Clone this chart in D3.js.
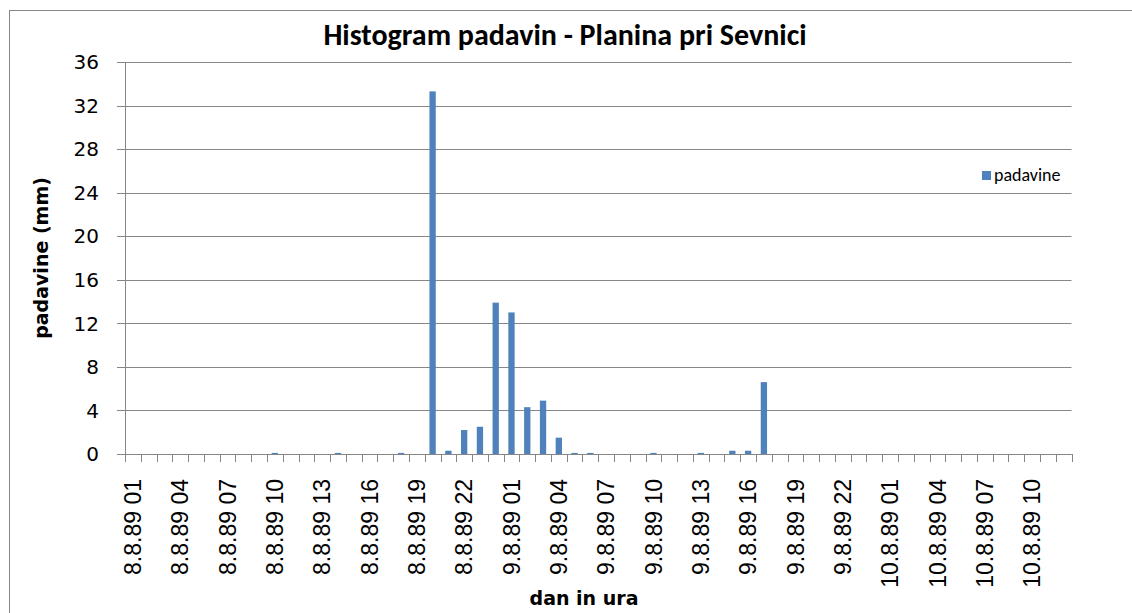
<!DOCTYPE html>
<html>
<head>
<meta charset="utf-8">
<script src="https://cdn.jsdelivr.net/npm/d3@7"></script>
<style>
  body { margin: 0; background: #fff; }
  svg { display: block; }
</style>
</head>
<body>
<svg width="1132" height="613"></svg>
<script>
const categories = [
  "8.8.89 01","8.8.89 02","8.8.89 03","8.8.89 04","8.8.89 05","8.8.89 06","8.8.89 07","8.8.89 08",
  "8.8.89 09","8.8.89 10","8.8.89 11","8.8.89 12","8.8.89 13","8.8.89 14","8.8.89 15","8.8.89 16",
  "8.8.89 17","8.8.89 18","8.8.89 19","8.8.89 20","8.8.89 21","8.8.89 22","8.8.89 23","9.8.89 00",
  "9.8.89 01","9.8.89 02","9.8.89 03","9.8.89 04","9.8.89 05","9.8.89 06","9.8.89 07","9.8.89 08",
  "9.8.89 09","9.8.89 10","9.8.89 11","9.8.89 12","9.8.89 13","9.8.89 14","9.8.89 15","9.8.89 16",
  "9.8.89 17","9.8.89 18","9.8.89 19","9.8.89 20","9.8.89 21","9.8.89 22","9.8.89 23","10.8.89 00",
  "10.8.89 01","10.8.89 02","10.8.89 03","10.8.89 04","10.8.89 05","10.8.89 06","10.8.89 07","10.8.89 08",
  "10.8.89 09","10.8.89 10","10.8.89 11","10.8.89 12"
];
const padavine = [
  0, 0, 0, 0, 0, 0, 0, 0, 0, 0.1, 0, 0, 0, 0.1, 0, 0, 0, 0.1, 0, 33.3,
  0.3, 2.2, 2.5, 13.9, 13.0, 4.3, 4.9, 1.5, 0.1, 0.1, 0, 0, 0, 0.1, 0, 0, 0.1, 0, 0.3, 0.3,
  6.6, 0, 0, 0, 0, 0, 0, 0, 0, 0, 0, 0, 0, 0, 0, 0, 0, 0, 0, 0
];
const yTicks = [0, 4, 8, 12, 16, 20, 24, 28, 32, 36];

const svg = d3.select("svg");
const calibri = "Carlito, Lato, 'Open Sans', sans-serif";
const wide = "'DejaVu Sans', Verdana, sans-serif";
const gray = "#868686";

const plotLeft = 125, plotRight = 1071.5, plotTop = 62, plotBottom = 454;

const data = categories.map((c, i) => ({ cat: c, val: padavine[i] }));

const x = d3.scaleBand()
  .domain(categories)
  .range([plotLeft, plotRight])
  .paddingInner(0.6)
  .paddingOuter(0.3);

const y = d3.scaleLinear()
  .domain([0, 36])
  .range([plotBottom, plotTop]);

// chart border
svg.append("rect")
  .attr("x", 9.5).attr("y", 10.5)
  .attr("width", 1130).attr("height", 620)
  .attr("fill", "#fff")
  .attr("stroke", gray);

// gridlines + y ticks
svg.append("g")
  .selectAll("line")
  .data(yTicks)
  .join("line")
  .attr("x1", plotLeft - 8)
  .attr("x2", plotRight)
  .attr("y1", d => Math.round(y(d)) + 0.5)
  .attr("y2", d => Math.round(y(d)) + 0.5)
  .attr("stroke", gray);

svg.append("g")
  .selectAll("text")
  .data(yTicks)
  .join("text")
  .attr("x", 99)
  .attr("y", d => y(d))
  .attr("dy", "0.36em")
  .attr("text-anchor", "end")
  .style("font-family", wide)
  .style("font-size", "20px")
  .text(d => d);

// y axis line
svg.append("line")
  .attr("x1", plotLeft + 0.5).attr("x2", plotLeft + 0.5)
  .attr("y1", plotTop).attr("y2", plotBottom)
  .attr("stroke", gray);

// bars
svg.append("g")
  .selectAll("rect")
  .data(data.filter(d => d.val > 0))
  .join("rect")
  .attr("x", d => x(d.cat))
  .attr("width", x.bandwidth())
  .attr("y", d => y(d.val))
  .attr("height", d => plotBottom - y(d.val))
  .attr("fill", "#4f81bd");

// x axis line and ticks between categories
svg.append("line")
  .attr("x1", plotLeft).attr("x2", plotRight)
  .attr("y1", plotBottom + 0.5).attr("y2", plotBottom + 0.5)
  .attr("stroke", gray);

svg.append("g")
  .selectAll("line")
  .data(d3.range(categories.length + 1))
  .join("line")
  .attr("x1", i => Math.round(plotLeft + i * x.step()) + 0.5)
  .attr("x2", i => Math.round(plotLeft + i * x.step()) + 0.5)
  .attr("y1", plotBottom)
  .attr("y2", plotBottom + 8)
  .attr("stroke", gray);

// x labels every 3rd category
svg.append("g")
  .selectAll("text")
  .data(categories.filter((c, i) => i % 3 === 0))
  .join("text")
  .attr("transform", d => `translate(${x(d) + x.bandwidth() / 2},479) rotate(-90)`)
  .attr("dy", "0.36em")
  .attr("text-anchor", "end")
  .style("font-family", "'Liberation Sans', Arial, sans-serif")
  .style("font-size", "23px")
  .text(d => d);

// title
svg.append("text")
  .attr("x", 565)
  .attr("y", 45)
  .attr("text-anchor", "middle")
  .style("font-family", calibri)
  .style("font-weight", "bold")
  .style("font-size", "30px")
  .text("Histogram padavin - Planina pri Sevnici");

// axis titles
svg.append("text")
  .attr("x", 584)
  .attr("y", 605)
  .attr("text-anchor", "middle")
  .style("font-family", wide)
  .style("font-weight", "bold")
  .style("font-size", "19px")
  .text("dan in ura");

svg.append("text")
  .attr("transform", "translate(48,258) rotate(-90)")
  .attr("text-anchor", "middle")
  .style("font-family", wide)
  .style("font-weight", "bold")
  .style("font-size", "19px")
  .text("padavine (mm)");

// legend
const legend = svg.append("g").attr("transform", "translate(982,175)");
legend.append("rect")
  .attr("x", 0).attr("y", -4)
  .attr("width", 9).attr("height", 9)
  .attr("fill", "#4f81bd");
legend.append("text")
  .attr("x", 12)
  .attr("dy", "0.35em")
  .style("font-family", calibri)
  .style("font-size", "18px")
  .text("padavine");
</script>
</body>
</html>
